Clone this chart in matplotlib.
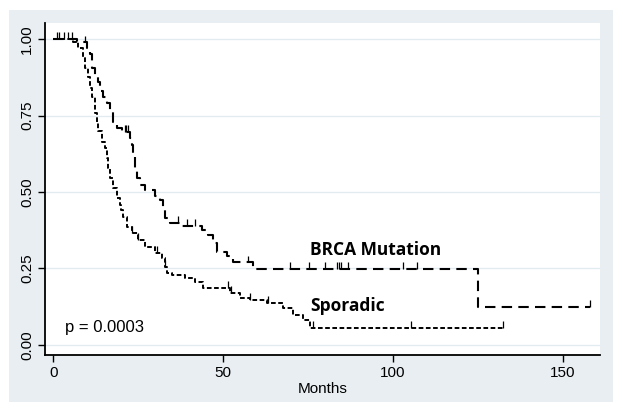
import numpy as np
import matplotlib.pyplot as plt
from matplotlib.patches import Rectangle

plt.rcParams['font.family'] = ['Liberation Sans', 'DejaVu Sans']

# Kaplan-Meier steps (months, survival after the step)
brca_t = [0, 6.9, 9.9, 10.8, 11.4, 12.2, 13.1, 13.7, 14.6, 15.8, 16.7, 17.6, 18.7,
          20.2, 22.6, 23.2, 23.5, 24.0, 24.6, 25.5, 27.0, 29.9, 31.4, 32.3, 32.9,
          34.4, 37.9, 43.8, 45.6, 47.0, 48.2, 51.2, 53.0, 58.8, 125.2, 158.0]
brca_s = [1.0, 0.99, 0.97, 0.95, 0.906, 0.88, 0.86, 0.83, 0.81, 0.79, 0.77, 0.73, 0.71,
          0.697, 0.677, 0.655, 0.62, 0.58, 0.546, 0.524, 0.507, 0.487, 0.475, 0.44, 0.415,
          0.40, 0.39, 0.376, 0.36, 0.334, 0.305, 0.29, 0.27, 0.248, 0.125, 0.125]
brca_cens = [1.0, 4.3, 5.5, 9.3, 21.0, 21.5, 22.0, 36.7, 39.4, 41.7, 57.4, 69.8, 75.3,
             80.1, 83.4, 84.0, 84.6, 86.9, 103.1, 107.2, 158.0]

spor_t = [0, 5.8, 7.2, 8.7, 9.3, 10.2, 10.8, 11.4, 12.2, 12.8, 13.1, 14.3, 15.2, 15.8,
          16.1, 16.7, 17.6, 18.7, 19.6, 19.9, 20.5, 21.7, 23.2, 24.9, 27.0, 29.9, 32.0,
          32.9, 33.5, 35.0, 38.8, 41.7, 44.1, 52.0, 55.0, 58.0, 63.0, 67.7, 70.6, 73.6,
          75.7, 132.3]
spor_s = [1.0, 0.99, 0.97, 0.94, 0.906, 0.875, 0.84, 0.81, 0.76, 0.73, 0.70, 0.664,
          0.645, 0.61, 0.58, 0.546, 0.514, 0.48, 0.458, 0.44, 0.42, 0.386, 0.366, 0.344,
          0.32, 0.30, 0.285, 0.256, 0.235, 0.23, 0.219, 0.206, 0.186, 0.17, 0.154, 0.147,
          0.137, 0.12, 0.098, 0.082, 0.056, 0.056]
spor_cens = [1.5, 3.0, 23.2, 25.0, 30.5, 32.9, 51.5, 52.2, 58.0, 63.3, 76.5, 105.2, 132.3]

xticks = [0, 50, 100, 150]
yticks = [0.0, 0.25, 0.50, 0.75, 1.0]


def surv_at(t, s, x):
    i = np.searchsorted(t, x, side='right') - 1
    return np.array(s)[i]


fig = plt.figure(figsize=(6.23, 4.11), dpi=100, facecolor='white')
fig.patches.append(Rectangle((9 / 623, 9 / 411), 604 / 623, 392 / 411,
                             transform=fig.transFigure, facecolor='#e8eef1',
                             edgecolor='none', zorder=-10))
ax = fig.add_axes([45 / 623, 56 / 411, 555 / 623, 332 / 411])
ax.set_facecolor('white')

ax.step(brca_t, brca_s, where='post', color='black', lw=1.5, linestyle=(0, (5, 3)))
ax.step(spor_t, spor_s, where='post', color='black', lw=1.4, linestyle=(0, (2.4, 1.3)))

# censoring ticks
for cens, t, s in [(brca_cens, brca_t, brca_s), (spor_cens, spor_t, spor_s)]:
    ys = surv_at(t, s, np.array(cens))
    ax.vlines(cens, ys, ys + 0.022, color='black', lw=0.9)

ax.set_xlim(-2.5, 161)
ax.set_ylim(-0.033, 1.053)
ax.set_xticks(xticks)
ax.set_yticks(yticks)
ax.set_yticklabels(['%.2f' % v for v in yticks], rotation=90, va='center')
ax.tick_params(labelsize=11, length=5, width=1, direction='out', pad=3)
ax.grid(axis='y', color='#e2ebf0', lw=1)
ax.set_axisbelow(True)
for side in ['top', 'right']:
    ax.spines[side].set_visible(False)
for side in ['left', 'bottom']:
    ax.spines[side].set_linewidth(1.3)

ax.set_xlabel('Months', fontsize=11, labelpad=1)
ax.text(75.7, 0.31, 'BRCA Mutation', fontsize=12.5, fontweight='bold',
        family='Open Sans', va='center')
ax.text(75.7, 0.128, 'Sporadic', fontsize=12.5, fontweight='bold',
        family='Open Sans', va='center')
ax.text(3.4, 0.058, 'p = 0.0003', fontsize=12, va='center')

fig.savefig('out.png', dpi=100, facecolor=fig.get_facecolor())
